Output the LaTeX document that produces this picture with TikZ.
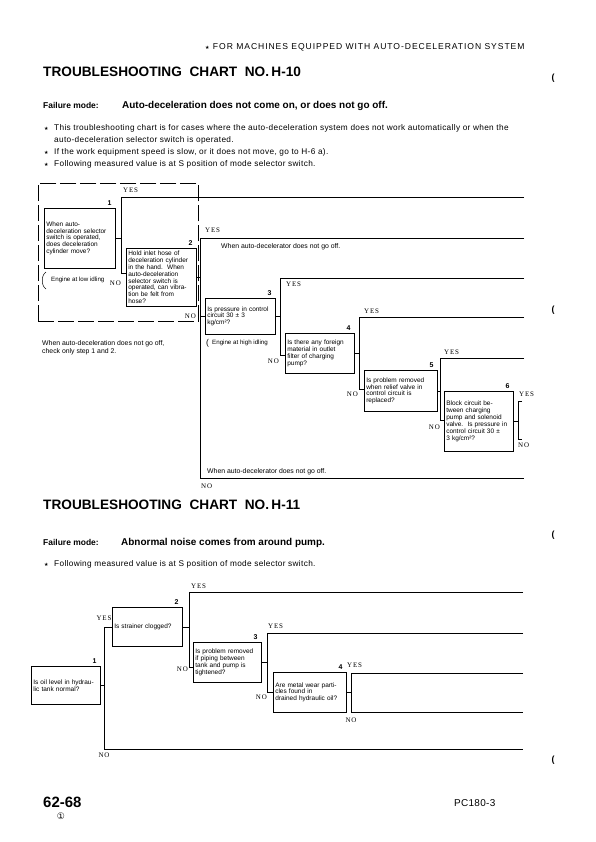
\documentclass[tikz,border=0pt]{standalone}
\usepackage{fontspec}
\setmainfont{Liberation Sans}
\newfontfamily\ynfont[LetterSpace=12]{Liberation Serif}
\newfontfamily\symfont{DejaVu Sans}
\usetikzlibrary{positioning}
\newcommand{\qfont}{\fontsize{6.5}{6.9}\selectfont}
\newcommand{\bstar}{{\symfont\fontsize{5}{6}\selectfont ★}}
\tikzset{
  qbox/.style   ={draw, line width=0.6pt, anchor=north west, align=left,
                  inner xsep=2bp, inner ysep=1bp, font=\qfont},
  qnum/.style   ={font=\bfseries\fontsize{7}{8}\selectfont, inner sep=0pt},
  yn/.style     ={font=\ynfont\fontsize{7}{8}\selectfont, inner sep=0pt},
  flow/.style   ={line width=0.6pt},
  note/.style   ={font=\fontsize{6.9}{8}\selectfont, inner sep=0pt,
                  anchor=base west},
  cond/.style   ={font=\fontsize{6.2}{8}\selectfont, inner sep=0pt,
                  anchor=base west},
  ttl/.style    ={font=\bfseries\fontsize{13.7}{16}\selectfont, inner sep=0pt,
                  anchor=base west},
  fmode/.style  ={font=\bfseries\fontsize{8.5}{10}\selectfont, inner sep=0pt,
                  anchor=base west},
  fdesc/.style  ={font=\bfseries\fontsize{10}{12}\selectfont, inner sep=0pt,
                  anchor=base west},
  bul/.style    ={font=\fontsize{8.3}{10}\selectfont\addfontfeature{LetterSpace=4},
                  inner sep=0pt, anchor=base west},
  edgemk/.style ={font=\bfseries\fontsize{9}{10}\selectfont, inner sep=0pt},
}

\begin{document}
\begin{tikzpicture}[x=1bp, y=-1bp]
\useasboundingbox (0,0) rectangle (596,842);

% page head
\node[anchor=base west, inner sep=0pt,
  font=\fontsize{8.6}{10}\selectfont\addfontfeature{LetterSpace=11}]
  (head) at (205,49) {\bstar\ FOR MACHINES EQUIPPED WITH AUTO-DECELERATION SYSTEM};
\node[edgemk] (mk1) at (553,78) {(};
\node[edgemk] (mk2) at (553,310) {(};
\node[edgemk] (mk3) at (553,535) {(};
\node[edgemk] (mk4) at (553,760) {(};

% ---- chart H-10 ----
\node[ttl] (t10) at (43,76) {TROUBLESHOOTING\ \ CHART\ \ NO.\,H-10};
\node[fmode] (fm10) at (43,108) {Failure mode:};
\node[fdesc] (fm10t) at (122,108) {Auto-deceleration does not come on, or does not go off.};
\node[bul] (s1) at (44,130) {\bstar};
\node[bul] (l1) at (54,130) {This troubleshooting chart is for cases where the auto-deceleration system does not work automatically or when the};
\node[bul] (l1b) at (54,142) {auto-deceleration selector switch is operated.};
\node[bul] (s2) at (44,154) {\bstar};
\node[bul] (l2) at (54,154) {If the work equipment speed is slow, or it does not move, go to H-6 a).};
\node[bul] (s3) at (44,166) {\bstar};
\node[bul] (l3) at (54,166) {Following measured value is at S position of mode selector switch.};

\node[draw, flow, dash pattern=on 16bp off 4bp, anchor=north west, inner sep=0pt,
  minimum width=160bp, minimum height=138bp] (grp) at (38,183) {};

\node[qbox, text width=67bp, minimum height=60bp] (q1) at (44,208)
  {When auto-\\deceleration selector\\switch is operated,\\does deceleration\\cylinder move?};
\node[qbox, text width=66bp, minimum height=58bp] (q2) at (126,248)
  {Hold inlet hose of\\deceleration cylinder\\in the hand.\ \ When\\auto-deceleration\\selector switch is\\operated, can vibra-\\tion be felt from\\hose?};
\node[qbox, text width=66bp, minimum height=36bp] (q3) at (205,298)
  {Is pressure in control\\circuit 30 ± 3\\kg/cm²?};
\node[qbox, text width=65bp, minimum height=40bp] (q4) at (285,333)
  {Is there any foreign\\material in outlet\\filter of charging\\pump?};
\node[qbox, text width=69bp, minimum height=41bp] (q5) at (364,370)
  {Is problem removed\\when relief valve in\\control circuit is\\replaced?};
\node[qbox, text width=65bp, minimum height=60bp] (q6) at (444,391)
  {Block circuit be-\\tween charging\\pump and solenoid\\valve.\ \ Is pressure in\\control circuit 30 ±\\3 kg/cm²?};

\foreach \b/\k in {q1/1,q2/2,q3/3,q4/4,q5/5,q6/6}
  \node[qnum, above left=2bp and 4bp of \b.north east] (num\k) {\k};

\coordinate (y1) at (121,197); \coordinate (n1) at (121,273);
\coordinate (y2) at (200,238); \coordinate (n2) at (200,478);
\coordinate (y3) at (280,278); \coordinate (n3) at (280,355);
\coordinate (y4) at (359,317); \coordinate (n4) at (359,389);
\coordinate (y5) at (440,358); \coordinate (n5) at (440,420);
\coordinate (y6) at (518,401); \coordinate (n6) at (518,439);
\coordinate (e1) at (524,197); \coordinate (e2) at (524,238);
\coordinate (e3) at (524,278); \coordinate (e4) at (524,317);
\coordinate (e5) at (524,358); \coordinate (f2) at (524,478);
\coordinate (m2) at (q3.west -| y2);

\draw[flow] (q1.east) -- (q1.east -| y1);
\draw[flow] (e1) -- (y1) -- (n1) -- (n1 -| q2.west);
\draw[flow] (q2.east) -- (q2.east -| y2);
\draw[flow] (e2) -- (y2) -- (n2) -- (f2);
\draw[flow] (m2) -- (q3.west);
\draw[flow] (q3.east) -- (q3.east -| y3);
\draw[flow] (e3) -- (y3) -- (n3) -- (n3 -| q4.west);
\draw[flow] (q4.east) -- (q4.east -| y4);
\draw[flow] (e4) -- (y4) -- (n4) -- (n4 -| q5.west);
\draw[flow] (q5.east) -- (q5.east -| y5);
\draw[flow] (e5) -- (y5) -- (n5) -- (n5 -| q6.west);
\draw[flow] (q6.east) -- (q6.east -| y6);
\draw[flow] ([xshift=4bp]y6) -- (y6) -- (n6) -- ([xshift=4bp]n6);

\node[yn, above right=4.5bp and 2bp of y1] (ys1) {YES};
\node[yn, below left=7.5bp and 0bp of n1] (no1) {NO};
\node[yn, above right=5.5bp and 5bp of y2] (ys2) {YES};
\node[yn, left=4bp of m2] (no2) {NO};
\node[yn, below right=5.5bp and 1bp of n2] (no2b) {NO};
\node[yn, below right=3.5bp and 6bp of y3] (ys3) {YES};
\node[yn, below left=3.5bp and 1bp of n3] (no3) {NO};
\node[yn, above right=3.5bp and 5bp of y4] (ys4) {YES};
\node[yn, below left=2.5bp and 1bp of n4] (no4) {NO};
\node[yn, above right=3.5bp and 4bp of y5] (ys5) {YES};
\node[yn, below left=4.5bp and 0bp of n5] (no5) {NO};
\node[yn, above right=4bp and 1bp of y6] (ys6) {YES};
\node[yn, below right=3.5bp and 0bp of n6] (no6) {NO};

\node[note] (off1) at (221,248) {When auto-decelerator does not go off.};
\node[note] (off2) at (207,473) {When auto-decelerator does not go off.};
\node[note] (chk1) at (42,345) {When auto-deceleration does not go off,};
\node[note] (chk2) at (42,353) {check only step 1 and 2.};
\draw[flow, line width=0.5pt] (46,272) .. controls (41,275) and (41,286) .. (46,289);
\node[cond] (low) at (51,281) {Engine at low idling};
\node[cond, font=\fontsize{8.5}{9}\selectfont] (par) at (206,345) {(};
\node[cond] (high) at (212,344) {Engine at high idling};

% ---- chart H-11 ----
\node[ttl] (t11) at (43,509) {TROUBLESHOOTING\ \ CHART\ \ NO.\,H-11};
\node[fmode] (fm11) at (43,545) {Failure mode:};
\node[fdesc] (fm11t) at (121,545) {Abnormal noise comes from around pump.};
\node[bul] (s4) at (44,566) {\bstar};
\node[bul] (l4) at (54,566) {Following measured value is at S position of mode selector switch.};

\node[qbox, text width=65bp, minimum height=38bp] (p1) at (31,666)
  {Is oil level in hydrau-\\lic tank normal?};
\node[qbox, text width=66bp, minimum height=39bp] (p2) at (112,607)
  {Is strainer clogged?};
\node[qbox, text width=64bp, minimum height=40bp] (p3) at (193,642)
  {Is problem removed\\if piping between\\tank and pump is\\tightened?};
\node[qbox, text width=69bp, minimum height=40bp] (p4) at (273,672)
  {Are metal wear parti-\\cles found in\\drained hydraulic oil?};

\foreach \b/\k in {p1/1,p2/2,p3/3,p4/4}
  \node[qnum, above left=2bp and 4bp of \b.north east] (pnum\k) {\k};

\coordinate (yb1) at (104,627); \coordinate (nb1) at (104,749);
\coordinate (yb2) at (189,592); \coordinate (nb2) at (189,667);
\coordinate (yb3) at (267,633); \coordinate (nb3) at (267,692);
\coordinate (yb4) at (351,673); \coordinate (nb4) at (351,712);
\coordinate (eb1) at (523,749); \coordinate (eb2) at (523,592);
\coordinate (eb3) at (523,633); \coordinate (eb4) at (523,673);
\coordinate (fb4) at (523,712);

\draw[flow] (p1.east) -- (p1.east -| yb1);
\draw[flow] (yb1 -| p2.west) -- (yb1) -- (nb1) -- (eb1);
\draw[flow] (p2.east) -- (p2.east -| yb2);
\draw[flow] (eb2) -- (yb2) -- (nb2) -- (nb2 -| p3.west);
\draw[flow] (p3.east) -- (p3.east -| yb3);
\draw[flow] (eb3) -- (yb3) -- (nb3) -- (nb3 -| p4.west);
\draw[flow] (p4.east) -- (p4.east -| yb4);
\draw[flow] (eb4) -- (yb4) -- (nb4) -- (fb4);

\node[yn, above=6bp of yb1] (ysb1) {YES};
\node[yn, below=4bp of nb1] (nob1) {NO};
\node[yn, above right=3.5bp and 2bp of yb2] (ysb2) {YES};
\node[yn, below left=0bp and 1bp of nb2] (nob2) {NO};
\node[yn, above right=4.5bp and 1bp of yb3] (ysb3) {YES};
\node[yn, below left=2.5bp and 0bp of nb3] (nob3) {NO};
\node[yn, above right=5.5bp and -4bp of yb4] (ysb4) {YES};
\node[yn, below=5.5bp of nb4] (nob4) {NO};

% page foot
\node[anchor=base west, inner sep=0pt, font=\bfseries\fontsize{15}{17}\selectfont]
  (pg) at (43,807) {62-68};
\node[inner sep=0pt, font=\symfont\fontsize{9}{10}\selectfont] (rev) at (61,816) {①};
\node[anchor=base west, inner sep=0pt,
  font=\fontsize{10}{12}\selectfont\addfontfeature{LetterSpace=3}]
  (mdl) at (454,806) {PC180-3};
\end{tikzpicture}
\end{document}
